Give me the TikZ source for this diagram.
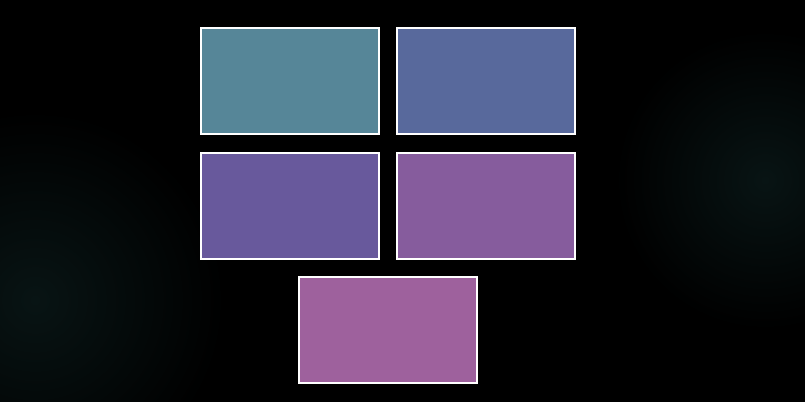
\documentclass[tikz,border=0pt]{standalone}
\usetikzlibrary{positioning}

\definecolor{glowteal}{RGB}{8,20,20}
\definecolor{tileA}{RGB}{86,134,152}
\definecolor{tileB}{RGB}{88,105,156}
\definecolor{tileC}{RGB}{104,89,156}
\definecolor{tileD}{RGB}{134,92,157}
\definecolor{tileE}{RGB}{158,97,157}

\begin{document}
\begin{tikzpicture}[x=0.025cm,y=-0.025cm,
		tile/.style={draw=white, line width=0.05cm, minimum width=4.45cm, minimum height=2.63cm, inner sep=0pt}]
		\useasboundingbox (0,0) rectangle (805,402);
		\fill[black] (0,0) rectangle (805,402);

		% faint glows
		\begin{scope}
		\clip (0,0) rectangle (805,402);
		\shade[inner color=glowteal, outer color=black] (765,180) circle (150);
		\shade[inner color=glowteal, outer color=black] (35,300) circle (190);
		\end{scope}

		\node[tile, fill=tileA] (tealtile) at (290,81) {};
		\node[tile, fill=tileB, right=0.4cm of tealtile] (bluetile) {};
		\node[tile, fill=tileC, below=0.445cm of tealtile] (indigotile) {};
		\node[tile, fill=tileD, right=0.4cm of indigotile] (violettile) {};
		\node[tile, fill=tileE] (pinktile) at (388,330) {};

	\end{tikzpicture}
\end{document}
